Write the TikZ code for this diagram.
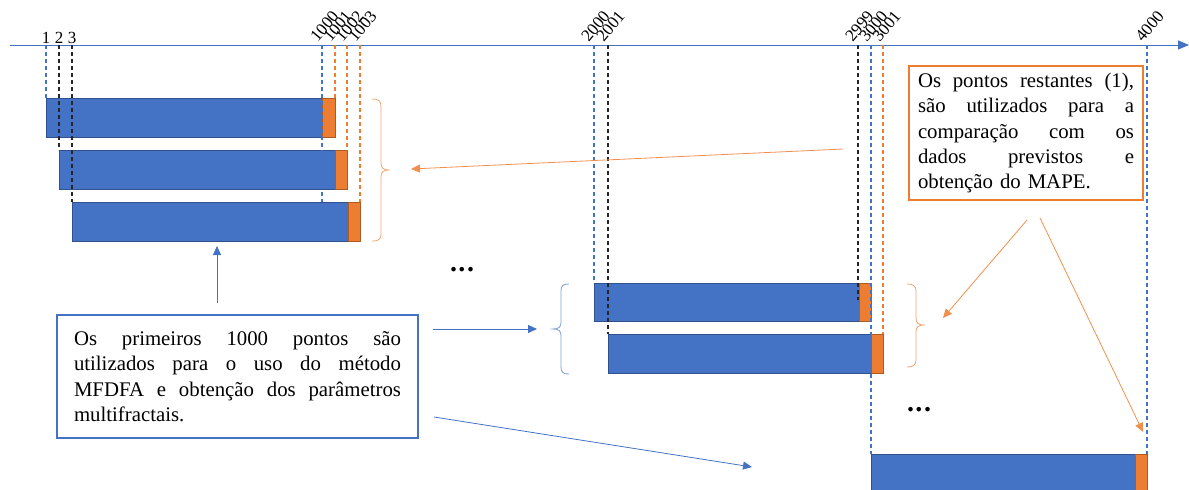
\documentclass[tikz,border=0pt]{standalone}
\usepackage{fontspec}
\setmainfont{Liberation Serif}
\usetikzlibrary{arrows.meta}
\definecolor{mblue}{HTML}{4472C4}
\definecolor{dblue}{HTML}{2F528F}
\definecolor{morange}{HTML}{ED7D31}
\definecolor{dorange}{HTML}{AE5A21}
\tikzset{
  bluebar/.style={fill=mblue,draw=dblue,line width=0.9pt},
  orangebar/.style={fill=morange,draw=dorange,line width=0.9pt},
  tickblue/.style={draw=mblue,dashed,dash pattern=on 4pt off 3pt,line width=1.1pt},
  tickblack/.style={draw=black!85,dashed,dash pattern=on 4pt off 3pt,line width=1.1pt},
  tickorange/.style={draw=morange,dashed,dash pattern=on 4pt off 3pt,line width=1.1pt},
  ticklab/.style={font=\fontsize{17}{17}\selectfont,rotate=50,anchor=south west,inner sep=0pt},
  uplab/.style={font=\fontsize{17}{17}\selectfont,anchor=base,inner sep=0pt},
  oarrow/.style={draw=morange!85,line width=0.8pt,-{Triangle[length=9pt,width=8pt]}},
  barrow/.style={draw=mblue,line width=0.8pt,-{Triangle[length=9pt,width=8pt]}},
  obrace/.style={draw=morange!70,line width=0.8pt},
  bbrace/.style={draw=mblue!70,line width=0.8pt},
  dots/.style={font=\fontsize{28}{28}\selectfont\bfseries,inner sep=0pt},
  bluebox/.style={draw=mblue,line width=2pt,fill=white,inner sep=0pt,align=left,font=\fontsize{20.8}{25.3}\selectfont},
  orangebox/.style={draw=morange,line width=1.5pt,fill=white,inner sep=0pt,align=left,font=\fontsize{20.8}{25.3}\selectfont},
}
\begin{document}
\begin{tikzpicture}[x=1pt,y=-1pt]
\useasboundingbox (0,0) rectangle (1189,490);
% axis
\coordinate (axs) at (10,45);
\coordinate (axe) at (1189,45);
\draw[draw=mblue,line width=1pt,-{Triangle[length=11pt,width=9pt]}] (axs) -- (axe);

% bars
\node[bluebar,minimum width=276,minimum height=39,inner sep=0,anchor=north west] (b1) at (46,98) {};
\node[orangebar,minimum width=13,minimum height=39,inner sep=0,anchor=north west] (o1) at (322,98) {};
\node[bluebar,minimum width=276,minimum height=39,inner sep=0,anchor=north west] (b2) at (59,150) {};
\node[orangebar,minimum width=12,minimum height=39,inner sep=0,anchor=north west] (o2) at (335,150) {};
\node[bluebar,minimum width=276,minimum height=39,inner sep=0,anchor=north west] (b3) at (72,202) {};
\node[orangebar,minimum width=12,minimum height=39,inner sep=0,anchor=north west] (o3) at (348,202) {};
\node[bluebar,minimum width=265,minimum height=38,inner sep=0,anchor=north west] (b4) at (594,283) {};
\node[orangebar,minimum width=12,minimum height=38,inner sep=0,anchor=north west] (o4) at (859,283) {};
\node[bluebar,minimum width=263,minimum height=39,inner sep=0,anchor=north west] (b5) at (608,334) {};
\node[orangebar,minimum width=12,minimum height=39,inner sep=0,anchor=north west] (o5) at (871,334) {};
\node[bluebar,minimum width=264,minimum height=40,inner sep=0,anchor=north west] (b6) at (871,454) {};
\node[orangebar,minimum width=12,minimum height=40,inner sep=0,anchor=north west] (o6) at (1135,454) {};

% dashed ticks
\draw[tickblue] (46,45) -- (46,98);
\draw[tickblack] (59,45) -- (59,150);
\draw[tickblack] (72,45) -- (72,202);
\draw[tickblue] (322,45) -- (322,202);
\draw[tickorange] (335,45) -- (335,98);
\draw[tickorange] (347,45) -- (347,150);
\draw[tickorange] (360,45) -- (360,202);
\draw[tickblue] (594,45) -- (594,283);
\draw[tickblack] (608,45) -- (608,334);
\draw[tickblack] (858,45) -- (858,300);
\draw[tickblue] (871,45) -- (871,454);
\draw[tickorange] (883,45) -- (883,334);
\draw[tickblue] (1147,45) -- (1147,454);

% tick labels
\node[uplab] (l1) at (46,43.5) {1};
\node[uplab] (l2) at (59,43.5) {2};
\node[uplab] (l3) at (72,43.5) {3};
\node[ticklab] (l1000) at (318,43) {1000};
\node[ticklab] (l1001) at (331,43) {1001};
\node[ticklab] (l1002) at (343,43) {1002};
\node[ticklab] (l1003) at (356,43) {1003};
\node[ticklab] (l2000) at (589,43) {2000};
\node[ticklab] (l2001) at (604,43) {2001};
\node[ticklab] (l2999) at (853,43) {2999};
\node[ticklab] (l3000) at (867,43) {3000};
\node[ticklab] (l3001) at (880,43) {3001};
\node[ticklab] (l4000) at (1143,43) {4000};

% braces
\coordinate (br1) at (390,170);
\draw[obrace] (372,99) .. controls (379,99) and (381,101) .. (381,107) -- (381,163) .. controls (381,168) and (383,170) .. (br1) .. controls (383,170) and (381,172) .. (381,177) -- (381,234) .. controls (381,239) and (379,241) .. (372,241);
\coordinate (br2) at (553,329);
\draw[bbrace] (569,284) .. controls (563,284) and (561,286) .. (561,291) -- (561,322) .. controls (561,327) and (559,329) .. (br2) .. controls (559,329) and (561,331) .. (561,336) -- (561,367) .. controls (561,372) and (563,374) .. (569,374);
\coordinate (br3) at (925,325);
\draw[obrace] (907,284) .. controls (913,284) and (916,286) .. (916,291) -- (916,318) .. controls (916,323) and (918,325) .. (br3) .. controls (918,325) and (916,327) .. (916,332) -- (916,360) .. controls (916,365) and (913,367) .. (907,367);

% dots
\node[dots] (d1) at (462,270) {.\kern1.5pt.\kern1.5pt.};
\node[dots] (d2) at (919,410) {.\kern1.5pt.\kern1.5pt.};

% text boxes
\node[bluebox,minimum width=361,minimum height=123,text width=327,inner xsep=16] (bb) at (237.5,376.5)
{\hbox to 327pt{Os\hfill primeiros\hfill 1000\hfill pontos\hfill são}
 \hbox to 327pt{utilizados\hfill para\hfill o\hfill uso\hfill do\hfill método}
 \hbox to 327pt{MFDFA\hfill e\hfill obtenção\hfill dos\hfill parâmetros}
 \hbox{multifractais.}};
\node[orangebox,minimum width=234,minimum height=134,text width=216,inner xsep=9] (ob) at (1026,133)
{\hbox to 216pt{Os\hfill pontos\hfill restantes\hfill (1),}
 \hbox to 216pt{são\hfill utilizados\hfill para\hfill a}
 \hbox to 216pt{comparação\hfill com\hfill os}
 \hbox to 216pt{dados\hfill previstos\hfill e}
 \hbox{obtenção do MAPE.}};

% arrows
\coordinate (a1s) at (843,149);
\coordinate (a1e) at (411,169);
\draw[oarrow] (a1s) -- (a1e);
\coordinate (a2s) at (1027,220);
\coordinate (a2e) at (943,318);
\draw[oarrow] (a2s) -- (a2e);
\coordinate (a3s) at (1040,218);
\coordinate (a3e) at (1143,432);
\draw[oarrow] (a3s) -- (a3e);
\coordinate (a4s) at (217,303);
\coordinate (a4e) at (217,246);
\draw[barrow] (a4s) -- (a4e);
\coordinate (a5s) at (433,329);
\coordinate (a5e) at (537,329);
\draw[barrow] (a5s) -- (a5e);
\coordinate (a6s) at (434,417);
\coordinate (a6e) at (752,467);
\draw[barrow] (a6s) -- (a6e);
\end{tikzpicture}
\end{document}
